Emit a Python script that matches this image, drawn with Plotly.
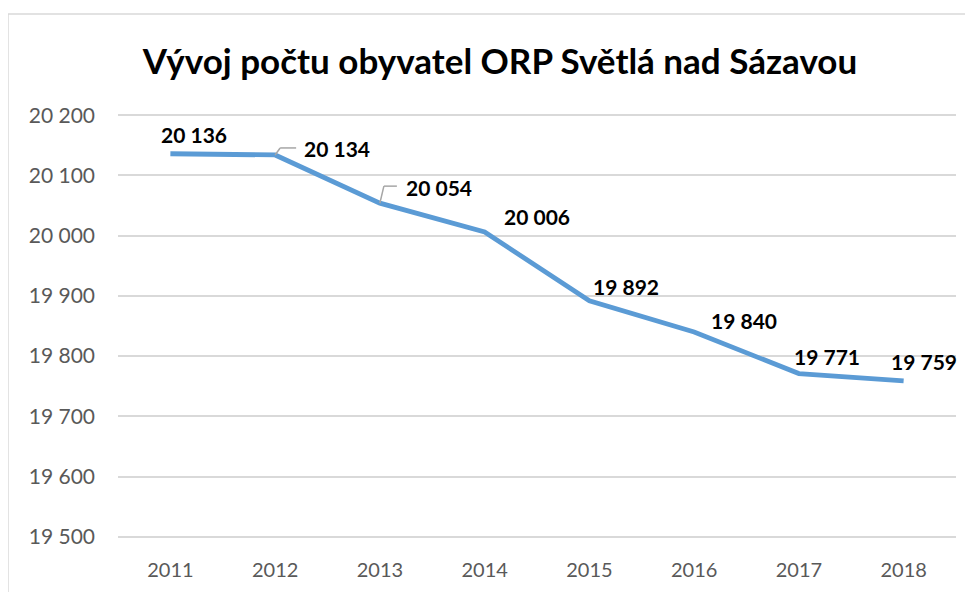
import plotly.graph_objects as go

years = ["2011", "2012", "2013", "2014", "2015", "2016", "2017", "2018"]
population = [20136, 20134, 20054, 20006, 19892, 19840, 19771, 19759]
y_ticks = [19500, 19600, 19700, 19800, 19900, 20000, 20100, 20200]
title_text = "Vývoj počtu obyvatel ORP Světlá nad Sázavou"

# label offsets in pixels (dx right, dy up) relative to each point
label_dx = [24, 62, 59, 52, 37, 50, 28, 20]
label_dy = [19, 6, 16, 16, 14, 12, 17, 19]

FONT = "Lato"
W, H = 965, 584  # page has an 8px body margin
fig = go.Figure()
fig.add_trace(go.Scatter(
    x=years, y=population, mode="lines",
    line=dict(color="#5B9BD5", width=4.8),
    hoverinfo="skip", showlegend=False,
))

for i, (v, dx, dy) in enumerate(zip(population, label_dx, label_dy)):
    fig.add_annotation(
        x=i, y=v, xref="x", yref="y",
        text=f"{v:,}".replace(",", " "),
        showarrow=False, xshift=dx, yshift=dy,
        font=dict(family=FONT, size=21, color="#000000", weight="bold"),
    )

# leader lines (pixel offsets from data points)
leaders = {"2012": [(0, 0), (5, 7), (21, 7)], "2013": [(0, 0), (4, 17), (17, 17)]}
for yr, pts in leaders.items():
    i = years.index(yr)
    v = population[i]
    for (x0, y0), (x1, y1) in zip(pts[:-1], pts[1:]):
        fig.add_shape(type="line", xref="x", yref="y",
                      xsizemode="pixel", ysizemode="pixel",
                      xanchor=i, yanchor=v,
                      x0=x0, x1=x1, y0=y0, y1=y1,
                      line=dict(color="#a6a6a6", width=1.5))

# chart-area border
fig.add_shape(type="rect", xref="paper", yref="paper",
              x0=-0.1313, x1=1.2, y0=-0.3, y1=1.2358,
              line=dict(color="#d9d9d9", width=1.5), layer="below")

fig.update_layout(
    width=W, height=H,
    margin=dict(l=110, r=17, t=106, b=54),
    paper_bgcolor="white", plot_bgcolor="white",
    title=dict(text=title_text, xref="container", yref="container",
               x=(500 - 8) / W, xanchor="center", y=1 - (62 - 8) / H, yanchor="middle",
               font=dict(family=FONT, size=35, color="#000000", weight="bold")),
    xaxis=dict(type="category", range=[-0.5, len(years) - 0.5],
               showgrid=False, showline=False, zeroline=False,
               tickfont=dict(family=FONT, size=20, color="#595959"),
               ticklabelstandoff=18),
    yaxis=dict(range=[19498, 20202], tickvals=y_ticks,
               ticktext=[f"{t:,}".replace(",", " ") for t in y_ticks],
               showgrid=True, gridcolor="#d9d9d9", gridwidth=1.5,
               zeroline=False, showline=False,
               tickfont=dict(family=FONT, size=21, color="#595959"),
               ticklabelstandoff=22),
)

fig.write_html("out.html")
